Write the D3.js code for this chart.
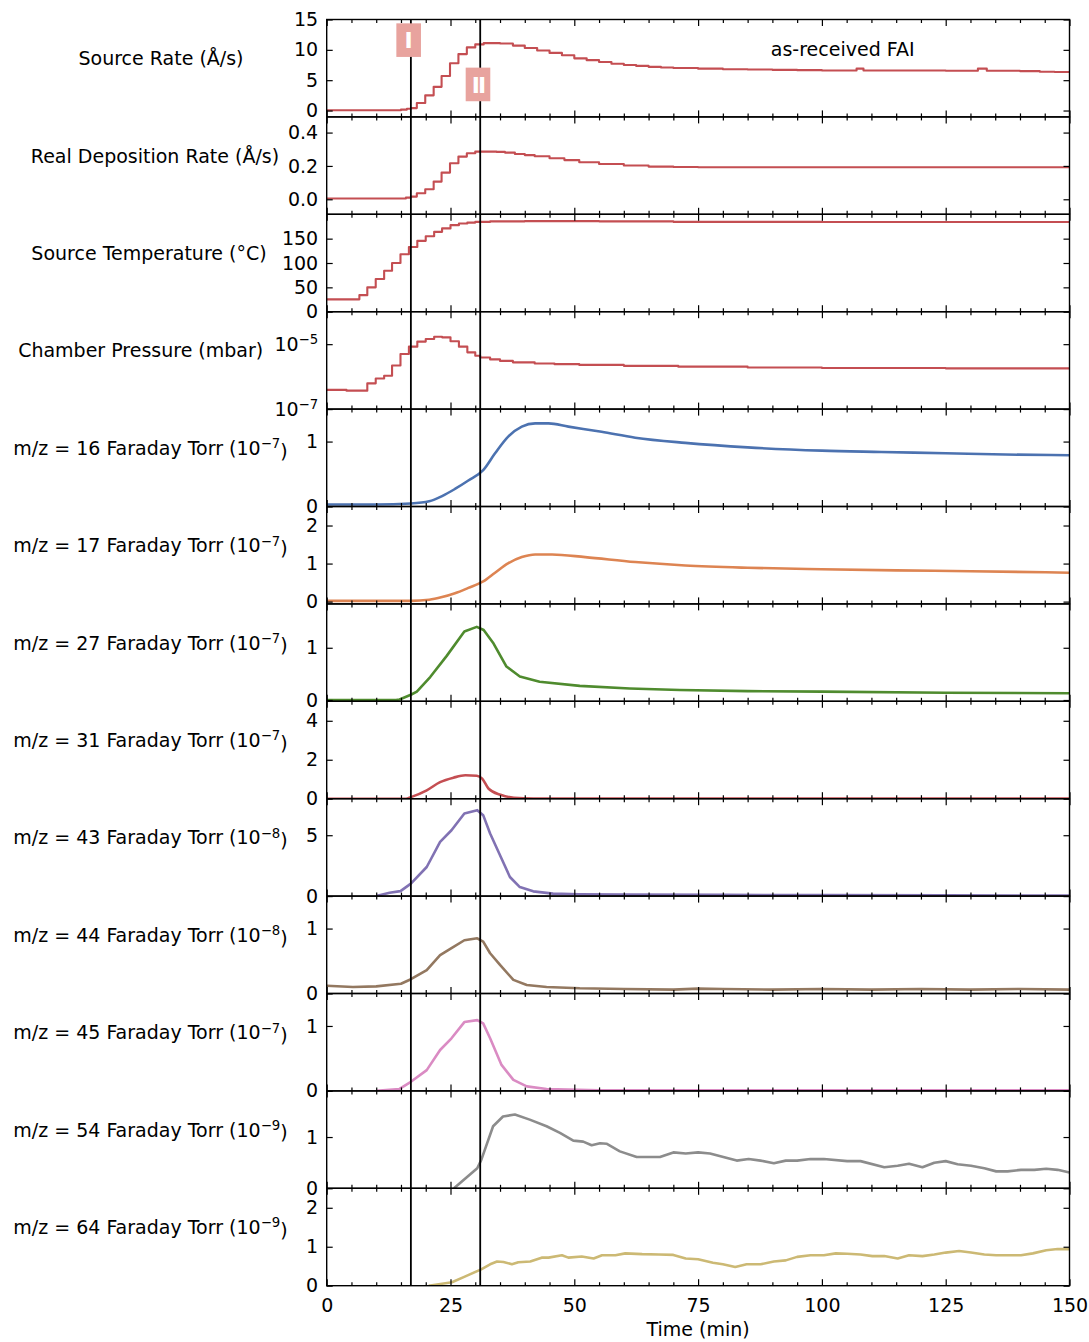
<!DOCTYPE html>
<meta charset="utf-8">
<script src="https://cdn.jsdelivr.net/npm/d3@7"></script>
<style>
  body { margin: 0; background: #fff; }
  text { font-family: "DejaVu Sans", sans-serif; }
</style>
<div id="my_dataviz"></div>
<script>

// ---------------- data ----------------
var markerTimes = [17, 31];
var markerNames = ["I", "II"];

// source rate (A/s), stepped
var rateTime = [0, 15, 16.2, 17, 18.2, 19.9, 21.6, 23.2, 24.9, 26.6, 28.3, 30, 31.7, 35, 37.6, 40, 42.5, 45, 47.5, 50,
  52.5, 55, 57.5, 60, 62.5, 65, 67.5, 70, 75, 80, 85, 90, 95, 100, 107, 108.4, 115, 125, 131.5, 133.3, 140, 144, 147, 150];
var rateVal = [0.05, 0.15, 0.3, 0.4, 1.25, 2.5, 3.9, 5.7, 7.8, 9.3, 10.4, 10.9, 11.1, 11.05, 10.7, 10.3, 9.9, 9.5, 9.1, 8.6,
  8.3, 8.0, 7.7, 7.5, 7.35, 7.2, 7.1, 7.0, 6.9, 6.8, 6.75, 6.7, 6.65, 6.6, 6.9, 6.6, 6.6, 6.55, 6.9, 6.55, 6.5, 6.4, 6.35, 6.3];

// real deposition rate (A/s), stepped
var depTime = [0, 16, 17, 18.2, 19.9, 21.6, 23.2, 24.9, 26.6, 28.3, 30, 34.3, 36, 38, 40, 42, 45, 48, 51, 55, 60, 65, 70, 75, 150];
var depVal = [0.005, 0.01, 0.016, 0.036, 0.06, 0.106, 0.16, 0.216, 0.256, 0.276, 0.286, 0.284, 0.28, 0.272, 0.265, 0.258,
  0.246, 0.235, 0.222, 0.212, 0.203, 0.196, 0.194, 0.192, 0.19];

// source temperature (C), stepped
var tempTime = [0, 6.6, 8.2, 9.9, 11.6, 13.2, 14.9, 16.6, 18.3, 20, 21.7, 23.3, 25, 26.7, 28.4, 30, 33, 40, 55, 70, 100, 150];
var tempVal = [25.4, 34, 50, 67, 84, 100, 118, 133, 145.5, 155, 164, 171, 177.7, 181, 183, 184.4, 185.5, 186, 185.5, 184.5, 184.3, 184];

// chamber pressure (mbar), stepped
var presTime = [0, 4, 8.2, 9.9, 11.6, 13.2, 14.9, 16.6, 18.3, 20, 21.7, 23.3, 25, 26.7, 28.4, 30, 31, 33, 35, 37.6, 42, 46,
  51, 60, 71, 85, 100, 125, 150];
var presVal = [3.9e-7, 3.7e-7, 6.2e-7, 8.8e-7, 1.07e-6, 2.2e-6, 5.0e-6, 8.4e-6, 1.2e-5, 1.45e-5, 1.7e-5, 1.62e-5, 1.23e-5,
  8.4e-6, 5.6e-6, 4.4e-6, 3.9e-6, 3.4e-6, 3.05e-6, 2.75e-6, 2.55e-6, 2.42e-6, 2.3e-6, 2.15e-6, 2.03e-6, 1.92e-6, 1.85e-6, 1.8e-6, 1.76e-6];

// faraday signals
var mz16Time = [0, 10, 17, 20.7, 23.3, 25.9, 28.6, 31.6, 34, 36.7, 39.4, 42.1, 44.8, 48.8, 55.5, 62.3, 72.4, 85, 100, 112, 125, 137, 150];
var mz16Val = [0.03, 0.03, 0.046, 0.08, 0.16, 0.27, 0.4, 0.56, 0.82, 1.08, 1.23, 1.28, 1.28, 1.23, 1.15, 1.06, 0.98, 0.91, 0.86, 0.84, 0.82, 0.8, 0.79];

var mz17Time = [0, 17, 20.7, 23.3, 25.9, 28.6, 31.6, 34, 36.7, 39.4, 42.1, 45.5, 52.2, 62.3, 72.4, 85, 100, 115, 130, 150];
var mz17Val = [0.02, 0.02, 0.05, 0.12, 0.22, 0.36, 0.53, 0.76, 1.01, 1.17, 1.24, 1.24, 1.17, 1.04, 0.95, 0.89, 0.85, 0.82, 0.8, 0.76];

var mz27Time = [0, 14, 14.7, 17, 18.2, 20.9, 24.2, 27.8, 30.3, 31.7, 33.7, 36.3, 39, 43, 51.1, 61.2, 71.3, 85, 100, 125, 150];
var mz27Val = [0, 0, 0.01, 0.1, 0.16, 0.44, 0.84, 1.31, 1.4, 1.34, 1.08, 0.64, 0.45, 0.35, 0.27, 0.22, 0.19, 0.17, 0.16, 0.14, 0.13];

var mz31Time = [0, 16, 17, 20.2, 22.9, 25.6, 28, 30.3, 31.4, 32.7, 35.1, 37.8, 41.8, 150];
var mz31Val = [0, 0, 0.08, 0.43, 0.85, 1.08, 1.2, 1.18, 1.03, 0.51, 0.2, 0.05, 0.01, 0.01];

var mz43Time = [10, 12.7, 14.9, 17, 20.2, 22.9, 25.2, 27.8, 30.4, 31.6, 33, 35, 37, 39, 41.7, 45.7, 51, 60, 80, 100, 125, 150];
var mz43Val = [0, 0.28, 0.41, 1.02, 2.39, 4.45, 5.41, 6.79, 7.06, 6.65, 5.14, 3.35, 1.57, 0.74, 0.39, 0.2, 0.15, 0.12, 0.1, 0.08, 0.06, 0.05];

var mz44Time = [0, 5.3, 10, 15, 17, 20.2, 22.9, 25.2, 27.8, 30.4, 31.6, 33, 35, 37.7, 40.4, 44.4, 51.1, 60, 70, 75, 80, 90,
  100, 110, 120, 130, 140, 150];
var mz44Val = [0.12, 0.1, 0.11, 0.15, 0.22, 0.36, 0.59, 0.7, 0.82, 0.85, 0.8, 0.62, 0.44, 0.21, 0.13, 0.1, 0.08, 0.07, 0.06,
  0.075, 0.07, 0.06, 0.07, 0.06, 0.07, 0.06, 0.07, 0.06];

var mz45Time = [10, 14.7, 17, 20.2, 22.9, 25.2, 27.8, 30.4, 31.6, 33, 35.3, 37.7, 40.4, 44.4, 55, 150];
var mz45Val = [0, 0.03, 0.14, 0.32, 0.63, 0.81, 1.06, 1.09, 1.04, 0.81, 0.4, 0.17, 0.07, 0.03, 0.01, 0.01];

var mz54Time = [25.7, 30.4, 31.2, 33.6, 35.6, 38, 41, 44.4, 47.1, 49.8, 51.8, 53.5, 55.2, 56.5, 59.2, 62.6, 67.3, 70, 72.5, 75,
  77.4, 82.8, 85.2, 87.6, 90.3, 92.7, 95, 97.7, 100.4, 105.1, 107.8, 112.6, 115.3, 117.6, 120.3, 122.7, 125, 127.4, 130.1, 132.8,
  135.2, 137.5, 140.2, 142.9, 145.3, 147.6, 150];
var mz54Val = [0, 0.39, 0.55, 1.21, 1.4, 1.44, 1.34, 1.21, 1.08, 0.93, 0.91, 0.84, 0.88, 0.87, 0.72, 0.61, 0.61, 0.7, 0.68, 0.7,
  0.68, 0.54, 0.57, 0.54, 0.49, 0.54, 0.54, 0.57, 0.57, 0.53, 0.53, 0.41, 0.44, 0.48, 0.41, 0.5, 0.53, 0.47, 0.44, 0.39,
  0.33, 0.33, 0.36, 0.36, 0.38, 0.36, 0.31];

var mz64Time = [20.6, 25.3, 28, 31.2, 33, 34.4, 35.7, 37.4, 38.7, 41.1, 43.4, 44.8, 47.5, 48.8, 51.5, 53.9, 55.6, 58.3, 60.3, 63.7,
  67.1, 70, 72.5, 75, 78, 80, 82.5, 84.8, 87.6, 90.3, 92.7, 95, 97.7, 100.4, 102.8, 105.1, 107.8, 110.2, 112.6, 115.3,
  117.6, 120.3, 122.7, 125, 127.7, 130.1, 132.8, 135.2, 137.5, 140.2, 142.6, 145.3, 147.6, 150];
var mz64Val = [0, 0.09, 0.24, 0.42, 0.55, 0.62, 0.61, 0.55, 0.6, 0.62, 0.72, 0.72, 0.78, 0.72, 0.75, 0.7, 0.78, 0.78, 0.83, 0.81,
  0.8, 0.79, 0.7, 0.68, 0.59, 0.55, 0.48, 0.55, 0.55, 0.62, 0.65, 0.74, 0.78, 0.78, 0.83, 0.82, 0.8, 0.76, 0.76, 0.7,
  0.78, 0.76, 0.8, 0.85, 0.89, 0.85, 0.8, 0.78, 0.78, 0.78, 0.83, 0.91, 0.94, 0.94];

var xTicks = [0, 25, 50, 75, 100, 125, 150];

// ---------------- panel table ----------------
var panels = [
  {label: "Source Rate (\u00c5/s)", t: rateTime, v: rateVal, domain: [-1.05, 15], ticks: [0, 5, 10, 15], color: "#C44E52", step: true, lx: 161},
  {label: "Real Deposition Rate (\u00c5/s)", t: depTime, v: depVal, domain: [-0.09, 0.494], ticks: [0, 0.2, 0.4], fmt: ".1f", color: "#C44E52", step: true, lx: 155},
  {label: "Source Temperature (\u00b0C)", t: tempTime, v: tempVal, domain: [0, 200], ticks: [0, 50, 100, 150], color: "#C44E52", step: true, lx: 149},
  {label: "Chamber Pressure (mbar)", t: presTime, v: presVal, domain: [1e-7, 1e-4], ticks: [1e-7, 1e-5], log: true, color: "#C44E52", step: true, lx: 140.7},
  {label: "m/z = 16 Faraday Torr (10", exp: "\u22127", t: mz16Time, v: mz16Val, domain: [0, 1.5], ticks: [0, 1], color: "#4C72B0", smooth: true},
  {label: "m/z = 17 Faraday Torr (10", exp: "\u22127", t: mz17Time, v: mz17Val, domain: [-0.06, 2.5], ticks: [0, 1, 2], color: "#DD8452", smooth: true},
  {label: "m/z = 27 Faraday Torr (10", exp: "\u22127", t: mz27Time, v: mz27Val, domain: [-0.025, 1.84], ticks: [0, 1], color: "#4f8b2e"},
  {label: "m/z = 31 Faraday Torr (10", exp: "\u22127", t: mz31Time, v: mz31Val, domain: [0, 5], ticks: [0, 2, 4], color: "#C44E52", smooth: true},
  {label: "m/z = 43 Faraday Torr (10", exp: "\u22128", t: mz43Time, v: mz43Val, domain: [0, 8], ticks: [0, 5], color: "#8172B3"},
  {label: "m/z = 44 Faraday Torr (10", exp: "\u22128", t: mz44Time, v: mz44Val, domain: [0, 1.5], ticks: [0, 1], color: "#937860"},
  {label: "m/z = 45 Faraday Torr (10", exp: "\u22127", t: mz45Time, v: mz45Val, domain: [0, 1.5], ticks: [0, 1], color: "#DA8BC3"},
  {label: "m/z = 54 Faraday Torr (10", exp: "\u22129", t: mz54Time, v: mz54Val, domain: [0, 1.9], ticks: [0, 1], color: "#8C8C8C"},
  {label: "m/z = 64 Faraday Torr (10", exp: "\u22129", t: mz64Time, v: mz64Val, domain: [0, 2.5], ticks: [0, 1, 2], color: "#CCB974"}
];

// ---------------- layout ----------------
var W = 1089, H = 1342;
var left = 326.7, right = 1069.5, top0 = 19.5, ph = 97.4;
var fs = 19;
var bottom = top0 + ph * panels.length;

var svg = d3.select("#my_dataviz")
  .append("svg")
    .attr("width", W)
    .attr("height", H)
    .attr("font-size", fs);

var x = d3.scaleLinear().domain([0, 150]).range([left, right]);
var minorX = d3.range(0, 151, 5).filter(function(d) { return d % 25 !== 0; });

function fixAxis(g) {
  g.attr("font-size", fs).attr("font-family", "DejaVu Sans");
  g.select(".domain").remove();
  g.selectAll(".tick line").attr("stroke-width", 1.2);
}

panels.forEach(function(p, i) {
  var y0 = top0 + i * ph, y1 = y0 + ph;
  var y = (p.log ? d3.scaleLog() : d3.scaleLinear()).domain(p.domain).range([y1, y0]);
  var g = svg.append("g");

  g.append("clipPath").attr("id", "clip" + i)
    .append("rect").attr("x", left).attr("y", y0).attr("width", right - left).attr("height", ph);

  // the series
  var pts = p.t.map(function(t, k) { return [t, p.v[k]]; });
  var line = d3.line()
    .x(function(d) { return x(d[0]); })
    .y(function(d) { return y(d[1]); })
    .curve(p.step ? d3.curveStepAfter : (p.smooth ? d3.curveMonotoneX : d3.curveLinear));
  g.append("path")
    .datum(pts)
    .attr("clip-path", "url(#clip" + i + ")")
    .attr("fill", "none")
    .attr("stroke", p.color)
    .attr("stroke-width", p.step ? 2.1 : 2.6)
    .attr("stroke-linejoin", "round")
    .attr("d", line);

  // y axes, ticks inward
  var yl = g.append("g")
    .attr("transform", "translate(" + left + ",0)")
    .call(d3.axisLeft(y).tickValues(p.ticks).tickSize(-6).tickSizeOuter(0).tickPadding(8.5)
      .tickFormat(p.log ? function() { return ""; } : d3.format(p.fmt || "d")));
  fixAxis(yl);
  if (p.log) {
    yl.selectAll(".tick text").each(function(d) {
      var t = d3.select(this);
      t.append("tspan").text("10");
      t.append("tspan").attr("dy", "-0.5em").attr("font-size", fs * 0.7)
        .text("\u2212" + Math.round(-Math.log10(d)));
    });
  }
  var yr = g.append("g")
    .attr("transform", "translate(" + right + ",0)")
    .call(d3.axisRight(y).tickValues(p.ticks).tickSize(-6).tickSizeOuter(0).tickFormat(""));
  fixAxis(yr);

  // x ticks on top and bottom edges, inward
  [[d3.axisTop, y0], [d3.axisBottom, y1]].forEach(function(a) {
    var isLast = (i === panels.length - 1) && a[0] === d3.axisBottom;
    var gm = g.append("g").attr("transform", "translate(0," + a[1] + ")")
      .call(a[0](x).tickValues(xTicks).tickSize(-6.5).tickSizeOuter(0).tickPadding(12.5)
        .tickFormat(isLast ? d3.format("d") : ""));
    fixAxis(gm);
    var gn = g.append("g").attr("transform", "translate(0," + a[1] + ")")
      .call(a[0](x).tickValues(minorX).tickSize(-3.5).tickSizeOuter(0).tickFormat(""));
    fixAxis(gn);
  });

  // frame
  g.append("rect")
    .attr("x", left).attr("y", y0).attr("width", right - left).attr("height", ph)
    .attr("fill", "none").attr("stroke", "#000").attr("stroke-width", 1.4);

  // horizontal y label
  var lab = g.append("text")
    .attr("x", p.lx || 150.5)
    .attr("y", (y0 + y1) / 2 - 3)
    .attr("text-anchor", "middle")
    .attr("fill", "#000");
  lab.append("tspan").text(p.label);
  if (p.exp) {
    lab.append("tspan").attr("dy", "-0.5em").attr("font-size", fs * 0.7).text(p.exp);
    lab.append("tspan").attr("dy", "0.5em").text(")");
  }

  if (i === 0) {
    g.append("text")
      .attr("x", x(104.2)).attr("y", y(10) + 6.5)
      .attr("text-anchor", "middle")
      .text("as-received FAI");
    p.yScale = y;
  }
});

// vertical event lines through all panels
svg.selectAll(".event")
  .data(markerTimes)
  .enter().append("line")
    .attr("class", "event")
    .attr("x1", function(d) { return x(d); })
    .attr("x2", function(d) { return x(d); })
    .attr("y1", top0)
    .attr("y2", bottom)
    .attr("stroke", "#000")
    .attr("stroke-width", 1.8);

// labelled boxes I and II in the top panel
var yTop = panels[0].yScale;
var boxLevels = [11.6, 4.3];
markerTimes.forEach(function(t, k) {
  var cx = x(t - 0.45), cy = yTop(boxLevels[k]);
  svg.append("rect")
    .attr("x", cx - 12.3).attr("y", cy - 16.8)
    .attr("width", 24.6).attr("height", 33.6)
    .attr("fill", "#e8a39e");
  svg.append("text")
    .attr("x", cx).attr("y", cy + 8.3)
    .attr("text-anchor", "middle")
    .attr("font-family", "DejaVu Serif")
    .attr("font-weight", "bold")
    .attr("font-size", 22)
    .attr("letter-spacing", k === 1 ? -2 : 0)
    .attr("fill", "#fff")
    .text(markerNames[k]);
});

// x axis title
svg.append("text")
  .attr("x", (left + right) / 2)
  .attr("y", 1336)
  .attr("text-anchor", "middle")
  .text("Time (min)");

</script>
